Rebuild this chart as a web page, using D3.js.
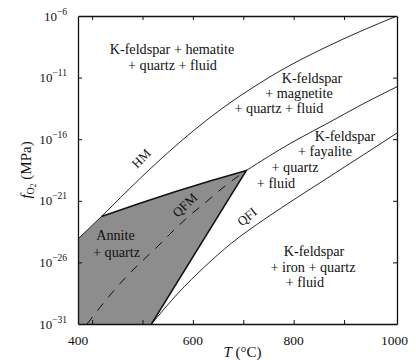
<!DOCTYPE html>
<html>
<head>
<meta charset="utf-8">
<script src="https://cdn.jsdelivr.net/npm/d3@7"></script>
<style>
    body { margin: 0; background: #fff; }
    text { font-family: "Liberation Serif", "DejaVu Serif", serif; fill: #111; }
</style>
</head>
<body>
<div id="chart"></div>
<script>
// axis ticks
const tempTicks = [400, 500, 600, 700, 800, 900];
const tempLabels = [400, 600, 800, 1000];
const logTicks = [-31, -26, -21, -16, -11, -6];

// buffer curves, T in degC, log10 fO2 in MPa
const hmT = [372, 418.6, 495, 574.4, 653.8, 733.1, 772.8, 852.2, 931.6, 1005];
const hmLog = [-24.1, -22.27, -19.19, -16.23, -13.63, -11.44, -10.46, -8.76, -7.26, -6.0];

const qfmT = [390, 437.5, 471.2, 506.9, 534.7, 564.5, 590.3, 626, 663.7, 706, 794.6, 868.1, 933.6, 1005];
const qfmLog = [-31, -28.56, -27.02, -25.6, -24.51, -23.29, -22.31, -21.1, -19.8, -18.54, -16.31, -14.69, -13.22, -11.74];

const qfiT = [517.8, 570.4, 623.4, 676.2, 742.5, 808.5, 874.6, 940.9, 1005];
const qfiLog = [-31, -28.51, -26.35, -24.45, -22.48, -20.69, -18.95, -17.2, -15.5];

// annite + quartz stability field boundaries
const upperT = [418.6, 495, 564.5, 633.9, 706];
const upperLog = [-22.27, -21.2, -20.26, -19.39, -18.54];
const rightT = [706, 517.8];
const rightLog = [-18.54, -31];

const width = 416, height = 360;
const margin = {top: 16, right: 19, bottom: 36, left: 78};

let x = d3.scaleLinear()
    .domain([372, 1005])
    .range([margin.left, width - margin.right]);

let y = d3.scaleLinear()
    .domain([-31, -6])
    .range([height - margin.bottom, margin.top]);

const svg = d3.select("#chart")
    .append("svg")
    .attr("width", width)
    .attr("height", height);

svg.append("clipPath")
    .attr("id", "plotclip")
    .append("rect")
    .attr("x", x.range()[0])
    .attr("y", y.range()[1])
    .attr("width", x.range()[1] - x.range()[0])
    .attr("height", y.range()[0] - y.range()[1]);

const plotArea = svg.append("g").attr("clip-path", "url(#plotclip)");

let line = d3.line()
    .x(function (d) { return x(d[0]); })
    .y(function (d) { return y(d[1]); });

let smooth = d3.line()
    .curve(d3.curveMonotoneX)
    .x(function (d) { return x(d[0]); })
    .y(function (d) { return y(d[1]); });

// shaded field
let annite = [[hmT[0], hmLog[0]]]
    .concat(d3.zip(upperT, upperLog))
    .concat([[rightT[1], rightLog[1]], [x.domain()[0], y.domain()[0]]]);

plotArea.append("path")
    .attr("d", line(annite) + "Z")
    .attr("fill", "#8d8d8d")
    .attr("stroke", "none");

plotArea.append("path")
    .attr("d", line(d3.zip(upperT, upperLog).concat([[rightT[1], rightLog[1]]])))
    .attr("fill", "none")
    .attr("stroke", "#111")
    .attr("stroke-width", 1.5);

// buffers
let qfm = d3.zip(qfmT, qfmLog);

plotArea.append("path")
    .attr("d", smooth(qfm.filter(d => d[0] <= 706)))
    .attr("fill", "none")
    .attr("stroke", "#111")
    .attr("stroke-width", 1)
    .attr("stroke-dasharray", "9,8");

plotArea.append("path")
    .attr("d", smooth(qfm.filter(d => d[0] >= 706)))
    .attr("fill", "none")
    .attr("stroke", "#111")
    .attr("stroke-width", 0.9);

[d3.zip(hmT, hmLog), d3.zip(qfiT, qfiLog)].forEach(function (pts) {
    plotArea.append("path")
        .attr("d", smooth(pts))
        .attr("fill", "none")
        .attr("stroke", "#111")
        .attr("stroke-width", 0.9);
});

// frame + inward ticks
function styleAxis(g) {
    g.select(".domain").attr("stroke", "#111").attr("stroke-width", 1.3);
    g.selectAll(".tick line").attr("stroke", "#111").attr("stroke-width", 1);
    g.selectAll(".tick text").remove();
}

svg.append("g")
    .attr("transform", "translate(0," + y.range()[0] + ")")
    .call(d3.axisBottom(x).tickValues(tempTicks).tickSize(-4).tickSizeOuter(0))
    .call(styleAxis);

svg.append("g")
    .attr("transform", "translate(0," + y.range()[1] + ")")
    .call(d3.axisTop(x).tickValues(tempTicks).tickSize(-4).tickSizeOuter(0))
    .call(styleAxis);

svg.append("g")
    .attr("transform", "translate(" + x.range()[0] + ",0)")
    .call(d3.axisLeft(y).tickValues(logTicks.slice(1, -1)).tickSize(-4).tickSizeOuter(0))
    .call(styleAxis);

svg.append("g")
    .attr("transform", "translate(" + x.range()[1] + ",0)")
    .call(d3.axisRight(y).tickValues(logTicks.slice(1, -1)).tickSize(-4).tickSizeOuter(0))
    .call(styleAxis);

// tick labels
svg.append("g")
    .selectAll("text")
    .data(tempLabels)
    .enter().append("text")
    .attr("x", function (d) { return d === 400 ? x.range()[0] : x(d); })
    .attr("y", y.range()[0] + 21)
    .attr("text-anchor", "middle")
    .style("font-size", "13.5px")
    .text(function (d) { return d; });

svg.append("g")
    .selectAll("text")
    .data(logTicks)
    .enter().append("text")
    .attr("x", x.range()[0] - 11)
    .attr("y", function (d) { return y(d) + 4.5; })
    .attr("text-anchor", "end")
    .style("font-size", "13px")
    .each(function (d) {
        let t = d3.select(this);
        t.append("tspan").text("10");
        t.append("tspan").attr("dy", -6).style("font-size", "9.5px").text("\u2212" + Math.abs(d));
    });

// axis titles
let xTitle = svg.append("text")
    .attr("x", (x.range()[0] + x.range()[1]) / 2 + 5)
    .attr("y", 357)
    .attr("text-anchor", "middle")
    .style("font-size", "15px");
xTitle.append("tspan").style("font-style", "italic").text("T");
xTitle.append("tspan").text(" (\u00B0C)");

let yTitle = svg.append("text")
    .attr("transform", "translate(31," + ((y.range()[0] + y.range()[1]) / 2) + ") rotate(-90)")
    .attr("text-anchor", "middle")
    .style("font-size", "15px");
yTitle.append("tspan").style("font-style", "italic").text("f");
yTitle.append("tspan").attr("dy", 3).style("font-size", "10px").text("O");
yTitle.append("tspan").attr("dy", 2).style("font-size", "7.5px").text("2");
yTitle.append("tspan").attr("dy", -5).text("  (MPa)");

// field labels
const fieldLabels = [
    {t: "K-feldspar + hematite", T: 558.5, f: -9.08},
    {t: "+ quartz + fluid", T: 559.5, f: -10.38},
    {t: "K-feldspar", T: 836.3, f: -11.44},
    {t: "+ magnetite", T: 810.5, f: -12.66},
    {t: "+ quartz + fluid", T: 770.8, f: -13.87},
    {t: "K-feldspar", T: 901.8, f: -16.15},
    {t: "+ fayalite", T: 862.1, f: -17.36},
    {t: "+ quartz", T: 802.6, f: -18.66},
    {t: "+ fluid", T: 764.9, f: -19.96},
    {t: "K-feldspar", T: 840.3, f: -25.5},
    {t: "+ iron + quartz", T: 838.3, f: -26.75},
    {t: "+ fluid", T: 822.4, f: -28.0},
    {t: "Annite", T: 446.4, f: -24.18},
    {t: "+ quartz", T: 448.4, f: -25.56}
];

svg.append("g")
    .selectAll("text")
    .data(fieldLabels)
    .enter().append("text")
    .attr("x", function (d) { return x(d.T); })
    .attr("y", function (d) { return y(d.f); })
    .attr("text-anchor", "middle")
    .style("font-size", "14.2px")
    .text(function (d) { return d.t; });

const curveLabels = [
    {t: "HM", T: 497.3, f: -17.55, a: -45},
    {t: "QFM", T: 583.7, f: -21.34, a: -43},
    {t: "QFI", T: 707.3, f: -22.29, a: -39}
];

svg.append("g")
    .selectAll("text")
    .data(curveLabels)
    .enter().append("text")
    .attr("transform", function (d) {
        return "translate(" + x(d.T) + "," + y(d.f) + ") rotate(" + d.a + ")";
    })
    .attr("text-anchor", "middle")
    .attr("dy", "0.35em")
    .style("font-size", "13px")
    .text(function (d) { return d.t; });
</script>
</body>
</html>
